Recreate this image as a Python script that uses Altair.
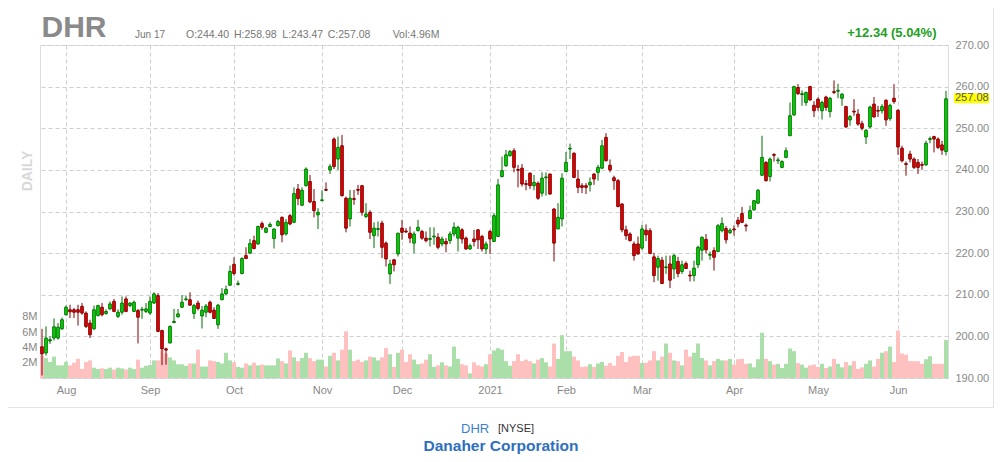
import altair as alt
import pandas as pd

# ---- data (DHR daily, Jul 24 2020 .. Jun 17 2021) ----
opens = [197.5,196.0,198.9,199.6,199.6,201.8,205.2,206.4,206.4,206.4,207.2,205.6,203.2,201.8,205.0,207.0,205.5,206.6,208.4,204.8,
205.8,209.0,207.4,206.0,206.2,206.3,206.0,205.6,208.0,209.8,201.4,197.0,198.4,203.3,204.7,207.0,208.8,208.8,205.5,208.0,
204.9,205.8,208.2,206.3,202.8,208.8,210.2,212.3,217.3,212.5,215.1,219.4,220.0,223.0,222.2,227.1,225.0,226.4,223.5,226.6,
228.6,224.6,229.0,227.4,235.4,231.5,236.2,237.2,232.4,229.2,232.6,235.3,240.0,247.4,242.6,245.8,233.2,228.2,233.1,235.3,
236.2,228.8,229.8,224.2,225.7,227.2,222.4,215.0,218.4,219.8,226.0,225.3,224.8,222.4,225.4,225.2,223.6,223.3,223.9,223.8,
222.2,222.8,223.0,224.6,223.6,225.6,223.6,221.0,223.4,225.6,224.0,221.0,225.2,222.8,224.0,238.4,241.0,243.4,244.6,240.1,
240.4,236.7,239.2,236.2,236.8,234.4,238.1,239.0,230.6,225.8,228.2,239.6,245.0,244.0,237.8,236.2,236.2,236.4,239.0,239.4,
240.4,247.8,241.1,238.1,237.4,231.8,225.6,224.6,222.2,222.2,221.2,225.5,225.4,219.1,216.6,218.3,216.5,217.4,216.2,218.0,
215.6,217.5,214.7,214.6,217.2,220.7,223.3,219.5,220.6,220.4,225.4,225.9,224.9,225.8,227.9,229.5,226.7,228.3,230.4,232.0,
238.7,241.8,238.4,243.7,242.2,240.6,243.0,248.2,253.2,259.8,258.1,256.2,260.0,255.5,257.0,254.2,257.5,254.0,258.8,258.9,
257.2,255.2,252.0,254.1,253.4,251.1,247.9,250.3,255.8,254.3,254.2,256.7,252.3,257.2,254.3,245.2,241.5,243.8,242.6,241.8,
241.3,241.2,247.3,248.0,247.4,246.0,244.40]
highs = [201.8,202.4,200.0,204.3,203.2,204.5,207.4,207.6,206.8,207.6,208.0,206.0,204.0,207.4,207.6,208.0,206.5,208.4,209.0,206.5,
209.6,209.6,208.2,208.6,206.6,207.1,208.0,209.6,210.6,210.4,201.6,197.3,202.6,206.6,206.6,209.9,209.8,210.6,207.8,208.6,
207.3,207.8,208.6,207.0,207.8,211.6,212.2,217.0,219.0,213.4,219.0,221.4,223.4,224.2,226.6,227.6,226.3,227.4,225.9,228.0,
228.8,228.2,229.4,235.8,236.6,235.8,240.6,238.8,235.4,230.8,235.1,237.0,241.4,247.8,248.0,248.4,233.6,235.2,235.2,236.4,
236.4,232.0,230.3,227.4,227.6,227.8,222.8,218.4,218.6,224.8,228.0,226.0,226.4,225.2,228.0,225.6,225.2,226.2,226.2,224.8,
224.0,223.6,225.2,227.4,226.6,226.0,224.0,222.3,225.6,225.8,224.4,222.8,225.6,229.6,237.8,243.2,244.8,244.8,245.2,241.2,
241.4,237.6,239.4,238.8,237.2,239.4,239.4,239.1,230.8,232.0,239.2,244.3,246.3,244.2,240.0,236.8,236.8,238.2,239.2,241.2,
247.2,248.8,242.5,238.6,237.8,232.0,226.6,225.0,222.8,224.0,226.8,226.9,226.0,220.1,219.4,219.1,219.4,219.4,219.8,219.1,
218.2,218.0,215.8,218.2,221.8,224.0,224.6,220.4,221.4,227.0,228.6,226.5,226.0,226.7,228.7,231.1,227.1,231.4,232.8,235.4,
248.2,242.1,243.0,244.0,243.0,242.3,245.4,256.2,260.2,260.6,259.1,258.8,260.2,256.5,257.4,256.6,257.8,257.5,261.5,260.7,
258.4,255.4,253.2,257.0,254.6,251.8,249.8,255.4,257.5,255.4,255.8,257.0,255.9,260.6,254.6,245.8,242.0,244.6,243.0,242.6,
242.0,247.0,248.0,248.2,247.8,247.0,258.98]
lows = [190.6,195.4,198.2,199.0,199.2,201.6,205.0,204.4,204.4,202.6,205.2,202.0,199.6,201.6,204.8,204.8,205.2,206.4,205.8,204.4,
205.2,205.8,207.0,205.8,198.3,204.2,205.6,205.2,207.8,201.0,193.1,193.2,198.4,203.2,204.5,206.8,208.6,207.4,204.2,206.2,
201.9,204.6,205.5,204.2,201.8,208.7,210.0,212.2,214.6,212.2,214.9,218.6,219.8,220.9,222.0,225.6,224.8,226.2,221.1,226.4,
222.6,224.2,226.7,227.2,231.5,231.4,236.0,232.0,228.6,225.8,232.5,234.9,239.0,240.2,240.0,233.6,225.0,226.4,231.6,234.0,
229.0,228.4,223.4,221.2,224.0,218.8,216.8,212.6,215.6,219.2,223.2,224.8,222.4,220.0,225.2,223.2,222.6,221.6,222.0,220.9,
221.6,220.2,222.2,224.0,220.4,222.3,220.8,220.8,221.6,221.0,220.4,219.8,219.8,222.8,224.0,238.2,240.7,243.2,239.4,235.8,
236.0,235.1,235.4,235.1,232.8,233.6,233.8,234.0,218.0,225.8,226.4,239.5,242.6,238.0,234.4,234.4,234.2,234.8,236.4,237.4,
240.2,242.0,239.4,235.2,231.0,225.0,223.2,222.8,218.2,219.6,220.8,222.9,219.8,213.0,213.4,212.6,215.0,211.6,213.8,214.2,
215.0,216.2,213.2,213.2,216.4,218.2,219.9,218.4,215.8,220.2,225.0,222.3,224.6,224.2,226.2,227.2,225.2,228.2,230.2,231.8,
238.6,237.2,237.2,242.0,241.4,240.4,242.8,248.2,253.0,258.0,255.4,255.4,256.6,252.7,254.2,252.1,254.2,252.6,258.2,257.2,
255.4,250.1,250.6,253.0,250.6,249.5,246.2,250.0,252.6,252.7,253.5,250.6,251.8,255.9,243.6,241.8,238.6,241.8,240.2,239.0,
240.0,241.0,246.4,244.2,245.0,243.6,243.47]
closes = [195.8,199.6,199.2,202.3,202.2,204.0,207.0,205.9,205.8,205.8,205.6,202.4,200.4,206.4,207.4,205.2,206.0,207.8,206.0,205.8,
208.0,206.0,208.0,208.2,204.6,206.5,206.6,208.4,210.2,201.2,197.0,196.7,202.4,203.6,205.4,208.2,209.0,207.5,207.4,206.7,
206.3,207.3,205.8,204.3,207.5,210.2,211.3,215.6,215.1,212.7,218.7,218.7,222.3,221.1,226.4,226.2,226.0,226.9,225.8,227.6,
224.4,227.4,227.0,234.3,233.1,235.1,240.2,232.3,230.2,229.8,232.8,235.1,240.8,240.8,245.4,233.8,226.0,233.2,232.9,235.1,
229.8,229.4,225.0,226.0,225.9,221.4,218.6,217.4,217.2,224.8,225.0,225.1,223.6,224.6,226.2,223.6,223.0,223.5,224.1,221.4,
223.4,222.2,224.6,226.2,226.2,223.4,221.0,221.8,222.8,223.2,221.0,222.2,223.4,229.0,236.4,239.8,243.6,244.4,240.6,239.9,
236.6,236.5,236.2,237.0,233.2,238.0,238.3,234.2,222.4,228.6,238.0,241.8,245.2,238.2,235.8,235.8,235.8,237.0,237.8,240.6,
245.8,242.2,240.0,237.4,231.2,225.6,224.2,223.0,219.4,219.8,225.8,224.4,219.9,214.6,218.7,212.7,216.7,213.5,219.4,215.1,
217.2,216.3,214.5,216.4,221.4,223.8,220.8,219.7,219.0,226.6,227.1,223.2,225.5,225.6,227.0,227.4,226.5,230.2,232.6,235.1,
243.0,237.4,242.6,243.5,242.4,242.0,244.6,253.0,260.0,258.3,258.3,258.6,256.8,254.2,255.0,256.2,255.0,257.2,258.6,259.1,
258.2,250.3,252.8,253.9,251.0,250.0,249.5,255.1,252.7,254.1,255.2,252.0,255.5,256.4,245.5,242.2,241.3,242.6,240.6,240.6,
241.1,246.4,247.5,247.4,245.4,244.74,257.08]
volumes_m = [2.9,2.6,2.1,2.8,1.65,1.65,2.1,1.65,2.0,2.5,1.2,2.1,2.3,1.35,1.17,1.26,1.17,1.35,1.1,1.35,
1.26,1.13,1.35,1.17,2.4,1.35,1.6,1.7,2.3,2.3,3.6,3.2,2.7,2.3,1.8,1.8,1.6,1.9,1.9,3.7,
1.5,1.5,2.3,2.2,2.1,1.9,3.3,2.3,2.05,1.45,1.35,1.9,1.65,2.0,1.65,1.75,1.65,1.65,1.65,2.55,
2.2,1.9,3.6,2.7,2.2,2.6,3.3,2.6,2.2,2.4,2.4,1.5,2.9,3.3,2.3,3.7,6.1,3.7,2.2,2.4,
2.1,2.3,2.8,2.7,2.3,2.7,3.9,3.1,1.45,3.3,3.7,2.1,3.1,2.4,1.8,1.9,2.4,3.1,1.45,1.65,
2.05,1.65,1.5,4.1,2.5,1.8,1.65,0.6,2.05,1.65,1.5,1.8,3.1,3.6,3.9,3.7,2.2,1.6,2.2,3.1,
2.2,2.4,2.2,1.9,2.4,2.6,2.05,1.5,4.5,2.5,5.6,3.5,3.5,2.8,2.3,1.45,1.5,1.8,1.45,1.9,
2.1,1.6,1.95,1.6,2.9,3.4,2.1,2.8,2.9,2.9,1.95,2.0,2.3,3.5,2.3,2.8,4.5,3.3,2.3,2.2,
1.65,3.7,2.8,3.3,4.5,2.6,2.3,1.65,2.2,2.5,2.3,2.3,2.5,1.75,2.45,2.5,1.85,1.9,1.4,2.45,
5.9,2.5,2.2,1.75,1.85,1.3,1.85,3.85,3.5,1.95,1.75,1.35,1.65,1.75,1.45,1.85,1.3,1.5,2.5,1.85,
1.4,2.1,1.65,2.2,1.2,1.4,1.85,2.3,1.5,2.5,3.3,3.5,4.1,2.1,6.2,3.2,3.05,2.2,2.2,2.2,
1.85,2.45,2.85,1.85,1.85,1.85,4.96]

month_idx = [6, 27, 48, 70, 90, 112, 131, 150, 173, 194, 214]
month_lbl = ["Aug", "Sep", "Oct", "Nov", "Dec", "2021", "Feb", "Mar", "Apr", "May", "Jun"]
price_ticks = [190, 200, 210, 220, 230, 240, 250, 260, 270]
vol_ticks = [2, 4, 6, 8]

ticker = "DHR"
header_date = "Jun 17"
header_fields = ["O:244.40", "H:258.98", "L:243.47", "C:257.08", "Vol:4.96M"]
change_txt = "+12.34 (5.04%)"
company = "Danaher Corporation"
exchange = "[NYSE]"

# ---- styling ----
FONT = "Liberation Sans"
G_FILL, G_LINE = "#00e000", "#006e00"
R_FILL, R_LINE = "#ee0000", "#800000"
V_UP, V_DN = "#aadfaa", "#ffc0c0"
GRID = "#cfcfcf"
LBL = "#888888"
FRAME = "#e4e4e4"

n = len(opens)
df = pd.DataFrame({"i": list(range(n)), "open": opens, "high": highs, "low": lows,
                   "close": closes, "vol": volumes_m})

up = "datum.close >= datum.open"
label_expr = " : ".join(f"datum.value == {k} ? '{v}'" for k, v in zip(month_idx, month_lbl)) + " : ''"

x_enc = alt.X("i:Q", scale=alt.Scale(domain=[-0.5, n - 0.5], nice=False, zero=False, padding=0),
              axis=alt.Axis(values=month_idx, labelExpr=label_expr, grid=True, gridColor=GRID,
                            gridDash=[4, 3], ticks=False, tickSize=0, domain=False, title=None,
                            labelColor=LBL, labelFontSize=11, labelFont=FONT, labelPadding=6))
price_scale = alt.Scale(domain=[190, 270], nice=False, zero=False, padding=0)
price_axis = alt.Axis(orient="right", values=price_ticks, format=".2f", grid=True, gridColor=GRID,
                      gridDash=[4, 3], ticks=False, tickSize=0, domain=False, title=None,
                      labelColor=LBL, labelFontSize=11, labelFont=FONT, labelPadding=7)

vol = alt.Chart(df).mark_bar(size=4).encode(
    x=x_enc,
    y=alt.Y("vol:Q", scale=alt.Scale(domain=[0, 43.5], nice=False, zero=True, padding=0),
            axis=alt.Axis(orient="left", values=vol_ticks, labelExpr="datum.value + 'M'", grid=False,
                          ticks=False, tickSize=0, domain=False, title=None, labelColor=LBL,
                          labelFontSize=11, labelFont=FONT, labelPadding=3)),
    color=alt.condition(up, alt.value(V_UP), alt.value(V_DN)),
)

wick = alt.Chart(df).mark_rule(strokeWidth=1).encode(
    x=x_enc,
    y=alt.Y("low:Q", scale=price_scale, axis=price_axis),
    y2="high:Q",
    color=alt.condition(up, alt.value(G_LINE), alt.value(R_LINE)),
)
body = alt.Chart(df).mark_bar(size=2.6, strokeWidth=1).encode(
    x=x_enc,
    y=alt.Y("open:Q", scale=price_scale, axis=price_axis),
    y2="close:Q",
    fill=alt.condition(up, alt.value(G_FILL), alt.value(R_FILL)),
    stroke=alt.condition(up, alt.value(G_LINE), alt.value(R_LINE)),
)

last = pd.DataFrame({"p": [closes[-1]], "t": [f"{closes[-1]:.2f}"]})
last_box = alt.Chart(last).mark_rect(color="#ffff00", yOffset=-5.5, y2Offset=4.5).encode(
    x=alt.value(914), x2=alt.value(949),
    y=alt.Y("p:Q", scale=price_scale, axis=price_axis), y2="p:Q")
last_txt = alt.Chart(last).mark_text(align="left", baseline="middle", font=FONT, fontSize=11,
                                     color="#555555", dy=-0.5).encode(
    x=alt.value(915), y=alt.Y("p:Q", scale=price_scale, axis=price_axis), text="t:N")

price_layer = alt.layer(wick, body, last_box, last_txt)

one = pd.DataFrame({"k": [0]})


def txt(s, x, y, **kw):
    props = dict(text=s, font=FONT, align="left", baseline="alphabetic")
    props.update(kw)
    return alt.Chart(one).mark_text(**props).encode(x=alt.value(x), y=alt.value(y))


# light frame around the chart (right and bottom edges; the left edge lies in the page margin)
frame_r = alt.Chart(one).mark_rule(color=FRAME, strokeWidth=1).encode(
    x=alt.value(953.5), y=alt.value(-37), y2=alt.value(362.5))
frame_b = alt.Chart(one).mark_rule(color=FRAME, strokeWidth=1).encode(
    x=alt.value(-32), x2=alt.value(953.5), y=alt.value(362.5))

hdr_x = [146, 194, 242.3, 287.7, 352.7]
texts = [
    txt(ticker, 1.5, -8.5, fontSize=30, fontWeight="bold", color="#8a8a8a"),
    txt(header_date, 95, -7.5, fontSize=10, color="#777777"),
]
texts += [txt(s, xx, -7.5, fontSize=10.5, color="#777777") for s, xx in zip(header_fields, hdr_x)]
texts += [
    txt(change_txt, 896.5, -8.5, fontSize=13, fontWeight="bold", color="#22a022", align="right"),
    txt("DAILY", -12, 126, fontSize=14, fontWeight="bold", color="#d8d8d8", align="center",
        baseline="middle", angle=270),
    txt(ticker, 421, 384, fontSize=13, color="#3d7fd0", baseline="middle"),
    txt(exchange, 458, 384, fontSize=11, color="#333333", baseline="middle"),
    txt(company, 461, 405.5, fontSize=15.5, fontWeight="bold", color="#2f6fbf", align="center"),
]

chart = alt.layer(frame_r, frame_b, vol, price_layer, *texts).resolve_scale(y="independent").properties(
    width=908, height=333,
    padding={"left": 32, "top": 37, "right": 46, "bottom": 76},
    autosize=alt.AutoSizeParams(type="none"),
    background="white",
).configure_view(stroke=None).configure(font=FONT)

chart.save("out.html", embed_options={"renderer": "svg", "actions": False})
